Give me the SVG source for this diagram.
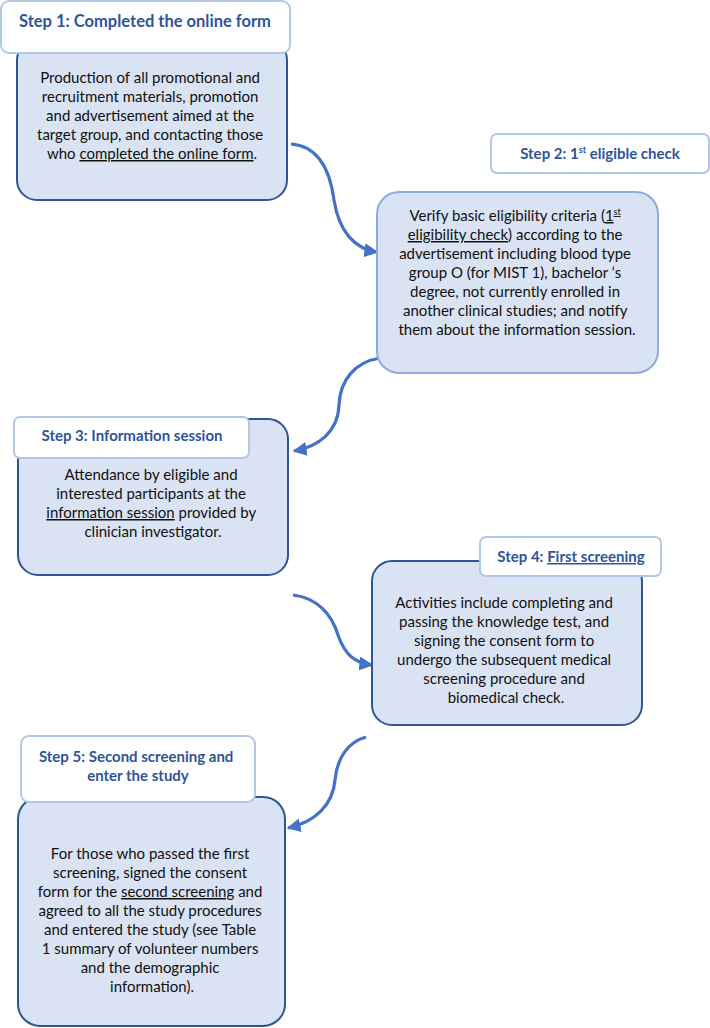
<svg xmlns="http://www.w3.org/2000/svg" width="710" height="1028" viewBox="0 0 710 1028">
<defs>
<style>
.body{fill:#dae3f3;stroke:#2f5597;stroke-width:2}
.body2{fill:#dae3f3;stroke:#8faadc;stroke-width:2}
.title{fill:#ffffff;stroke:#b4c7e7;stroke-width:2}
.tt{font-family:Lato,"Liberation Sans",sans-serif;font-weight:bold;font-size:15px;fill:#2f5597;text-anchor:middle}
.bt{font-family:Lato,"Liberation Sans",sans-serif;font-size:15px;fill:#111111;text-anchor:middle}
.u{text-decoration:underline}
.conn{fill:none;stroke:#4472c4;stroke-width:3.2}
</style>
<marker id="ah" viewBox="0 0 10 10" refX="9" refY="5" markerWidth="14" markerHeight="14" markerUnits="userSpaceOnUse" orient="auto">
<path d="M0,0 L10,5 L0,10 z" fill="#4472c4"/>
</marker>
</defs>
<rect width="710" height="1028" fill="#ffffff"/>
<g id="connectors">
<path class="conn" marker-end="url(#ah)" d="M291,144 C318,146 330,170 334,200 C339,232 355,249 377,252"/>
<path class="conn" marker-end="url(#ah)" d="M380,358 C355,362 340,380 339,405 C338,432 318,447 294,451"/>
<path class="conn" marker-end="url(#ah)" d="M293,595 C318,598 332,615 338,635 C345,655 355,663 372,665"/>
<path class="conn" marker-end="url(#ah)" d="M366,737 C348,742 337,758 335,780 C333,805 315,822 288,828"/>
</g>
<g id="step1">
<rect class="body" x="17" y="40" width="270" height="160" rx="20"/>
<rect class="title" x="1" y="1" width="289" height="52" rx="8"/>
<text class="tt" x="145" y="27" style="font-size:16.5px">Step 1: Completed the online form</text>
<text class="bt">
<tspan x="152" y="83">Production of all promotional and</tspan>
<tspan x="152" y="102">recruitment materials, promotion</tspan>
<tspan x="152" y="121">and advertisement aimed at the</tspan>
<tspan x="152" y="140">target group, and contacting those</tspan>
<tspan x="152" y="159">who <tspan class="u">completed the online form</tspan>.</tspan>
</text>
</g>
<g id="step2">
<rect class="title" x="491" y="134" width="218" height="39" rx="6"/>
<text class="tt" x="600" y="159">Step 2: 1<tspan font-size="9" dy="-6">st</tspan><tspan dy="6"> eligible check</tspan></text>
<rect class="body2" x="377" y="192" width="281" height="181" rx="22"/>
<text class="bt">
<tspan x="517" y="221">Verify basic eligibility criteria (<tspan class="u">1</tspan><tspan class="u" font-size="9" dy="-6">st</tspan></tspan>
<tspan x="517" y="240"><tspan class="u">eligibility check</tspan>) according to the</tspan>
<tspan x="517" y="259">advertisement including blood type</tspan>
<tspan x="517" y="278">group O (for MIST 1), bachelor ‘s</tspan>
<tspan x="517" y="297">degree, not currently enrolled in</tspan>
<tspan x="517" y="316">another clinical studies; and notify</tspan>
<tspan x="517" y="335">them about the information session.</tspan>
</text>
</g>
<g id="step3">
<rect class="body" x="18" y="419" width="270" height="156" rx="20"/>
<rect class="title" x="14" y="417" width="235" height="41" rx="6"/>
<text class="tt" x="132" y="441">Step 3: Information session</text>
<text class="bt">
<tspan x="153" y="480">Attendance by eligible and</tspan>
<tspan x="153" y="499">interested participants at the</tspan>
<tspan x="153" y="518"><tspan class="u">information session</tspan> provided by</tspan>
<tspan x="153" y="537">clinician investigator.</tspan>
</text>
</g>
<g id="step4">
<rect class="body" x="372" y="561" width="270" height="164" rx="20"/>
<rect class="title" x="480" y="537" width="181" height="39" rx="6"/>
<text class="tt" x="571" y="562">Step 4: <tspan class="u">First screening</tspan></text>
<text class="bt">
<tspan x="506" y="608">Activities include completing and</tspan>
<tspan x="506" y="627">passing the knowledge test, and</tspan>
<tspan x="506" y="646">signing the consent form to</tspan>
<tspan x="506" y="665">undergo the subsequent medical</tspan>
<tspan x="506" y="684">screening procedure and</tspan>
<tspan x="506" y="703">biomedical check.</tspan>
</text>
</g>
<g id="step5">
<rect class="body" x="18" y="797" width="267" height="229" rx="22"/>
<rect class="title" x="21" y="736" width="234" height="66" rx="8"/>
<text class="tt">
<tspan x="138" y="762">Step 5: Second screening and</tspan>
<tspan x="138" y="781">enter the study</tspan>
</text>
<text class="bt">
<tspan x="152" y="859">For those who passed the first</tspan>
<tspan x="152" y="878">screening, signed the consent</tspan>
<tspan x="152" y="897">form for the <tspan class="u">second screening</tspan> and</tspan>
<tspan x="152" y="916">agreed to all the study procedures</tspan>
<tspan x="152" y="935">and entered the study (see Table</tspan>
<tspan x="152" y="954">1 summary of volunteer numbers</tspan>
<tspan x="152" y="973">and the demographic</tspan>
<tspan x="152" y="992">information).</tspan>
</text>
</g>
</svg>
